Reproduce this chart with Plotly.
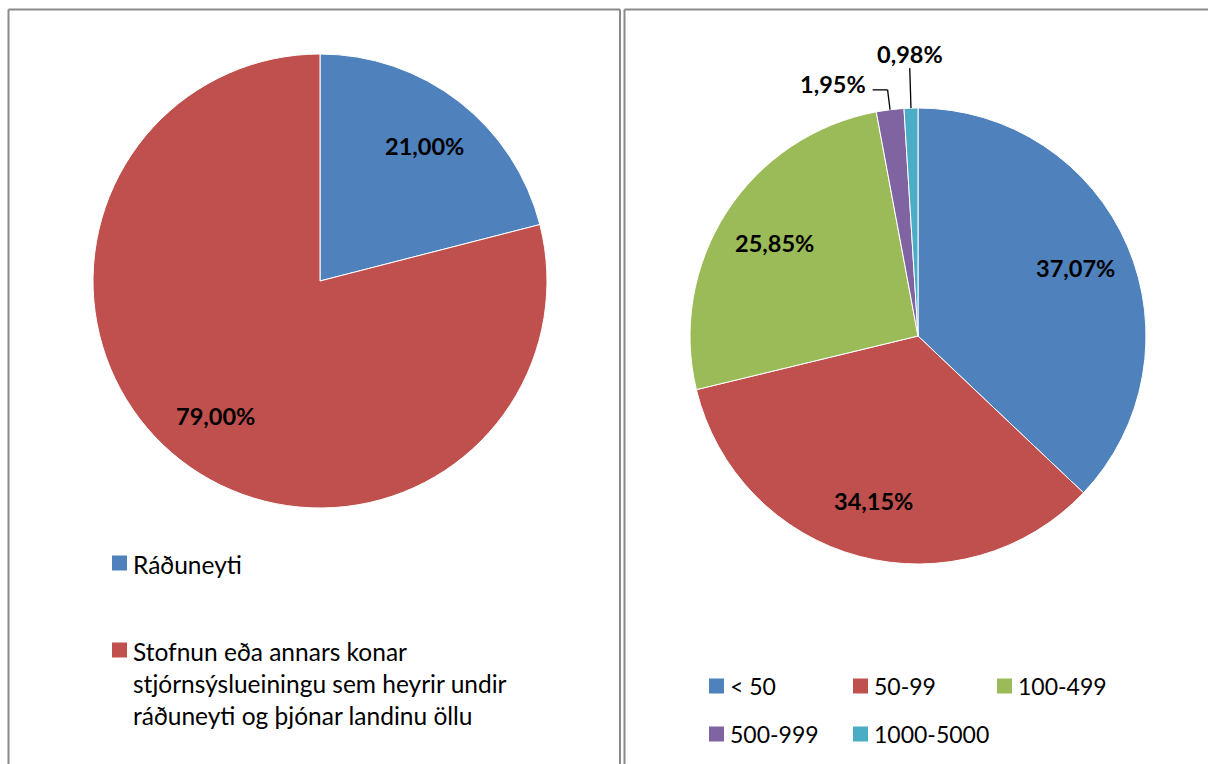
import math
import textwrap
import plotly.graph_objects as go

W, H = 1208, 764

# ---- data ----
left_labels = ["Ráðuneyti",
               "Stofnun eða annars konar stjórnsýslueiningu sem heyrir undir ráðuneyti og þjónar landinu öllu"]
left_values = [21.00, 79.00]
left_colors = ["#4F81BD", "#C0504D"]

right_labels = ["< 50", "50-99", "100-499", "500-999", "1000-5000"]
right_values = [37.07, 34.15, 25.85, 1.95, 0.98]
right_colors = ["#4F81BD", "#C0504D", "#9BBB59", "#8064A2", "#4BACC6"]

FONT = "Lato"
LBL_SIZE = 23.5
LEG_SIZE_L = 24.5
LEG_SIZE_R = 23


def px(x):
    return x / W


def py(y):
    return 1 - y / H


def fmt(v, tot):
    return f"{100 * v / tot:.2f}".replace(".", ",") + "%"


def mid_angles(values):
    tot = sum(values)
    acc = 0
    out = []
    for v in values:
        a0 = acc / tot * 360
        acc += v
        a1 = acc / tot * 360
        out.append((a0 + a1) / 2)
    return out


fig = go.Figure()
annotations = []
shapes = []

pies = [
    dict(labels=left_labels, values=left_values, colors=left_colors, cx=320, cy=281, r=227),
    dict(labels=right_labels, values=right_values, colors=right_colors, cx=918, cy=336, r=228),
]

for p in pies:
    cx, cy, r = p["cx"], p["cy"], p["r"]
    fig.add_trace(go.Pie(
        labels=p["labels"], values=p["values"],
        marker=dict(colors=p["colors"], line=dict(color="white", width=1)),
        sort=False, direction="clockwise", rotation=0,
        textinfo="none", showlegend=False,
        domain=dict(x=[px(cx - r), px(cx + r)], y=[py(cy + r), py(cy - r)]),
    ))
    tot = sum(p["values"])
    angs = mid_angles(p["values"])
    n_out = 0
    for v, a in zip(p["values"], angs):
        t = math.radians(a)
        txt = fmt(v, tot)
        if v / tot > 0.05:
            rr = 0.75 * r
            annotations.append(dict(
                x=px(cx + rr * math.sin(t)), y=py(cy - rr * math.cos(t)),
                xref="paper", yref="paper", text=txt, showarrow=False,
                xanchor="center", yanchor="middle",
                font=dict(family=FONT, size=LBL_SIZE, color="black", weight="bold")))
        else:
            out_len = [20, 40][n_out]
            elbow = [15, 0][n_out]
            n_out += 1
            x0, y0 = cx + r * math.sin(t), cy - r * math.cos(t)
            x1, y1 = cx + (r + out_len) * math.sin(t), cy - (r + out_len) * math.cos(t)
            shapes.append(dict(type="line", xref="paper", yref="paper",
                               x0=px(x0), y0=py(y0), x1=px(x1), y1=py(y1),
                               line=dict(color="black", width=1.3)))
            if elbow:
                x2 = x1 - elbow
                shapes.append(dict(type="line", xref="paper", yref="paper",
                                   x0=px(x1), y0=py(y1), x1=px(x2), y1=py(y1),
                                   line=dict(color="black", width=1.3)))
                annotations.append(dict(
                    x=px(x2 - 5), y=py(y1 - 6), xref="paper", yref="paper",
                    text=txt, showarrow=False, xanchor="right", yanchor="middle",
                    font=dict(family=FONT, size=LBL_SIZE, color="black", weight="bold")))
            else:
                annotations.append(dict(
                    x=px(x1), y=py(y1 + 2), xref="paper", yref="paper",
                    text=txt, showarrow=False, xanchor="center", yanchor="bottom",
                    font=dict(family=FONT, size=LBL_SIZE, color="black", weight="bold")))

# ---- legends (manual) ----
SW = 15
# left legend: vertical
left_rows = [563, 650]
for lab, col, yc in zip(left_labels, left_colors, left_rows):
    shapes.append(dict(type="rect", xref="paper", yref="paper",
                       x0=px(112), x1=px(112 + SW), y0=py(yc - SW / 2), y1=py(yc + SW / 2),
                       fillcolor=col, line=dict(width=0)))
    lines = textwrap.wrap(lab, width=36)
    annotations.append(dict(
        x=px(131), y=py(yc - 15), xref="paper", yref="paper",
        text="<br>".join(lines), showarrow=False, xanchor="left", yanchor="top", align="left",
        font=dict(family=FONT, size=LEG_SIZE_L, color="black")))

# right legend: 3 columns
cols_x = [709, 853, 997]
rows_y = [686, 734]
for i, (lab, col) in enumerate(zip(right_labels, right_colors)):
    x = cols_x[i % 3]
    yc = rows_y[i // 3]
    shapes.append(dict(type="rect", xref="paper", yref="paper",
                       x0=px(x), x1=px(x + SW), y0=py(yc - SW / 2), y1=py(yc + SW / 2),
                       fillcolor=col, line=dict(width=0)))
    annotations.append(dict(
        x=px(x + 19), y=py(yc), xref="paper", yref="paper",
        text=lab.replace("<", "&lt;"), showarrow=False, xanchor="left", yanchor="middle",
        font=dict(family=FONT, size=LEG_SIZE_R, color="black")))

# ---- panel frames ----
FR = dict(color="#8a8a8a", width=2)
for x0, y0, x1, y1 in [(8.5, 9.5, 620, 9.5), (8.5, 9.5, 8.5, 780), (620, 9.5, 620, 780),
                       (624.5, 9.5, 1220, 9.5), (624.5, 9.5, 624.5, 780)]:
    shapes.append(dict(type="line", xref="paper", yref="paper",
                       x0=px(x0), y0=py(y0), x1=px(x1), y1=py(y1), line=FR))

fig.update_layout(
    width=W, height=H,
    margin=dict(l=0, r=0, t=0, b=0),
    paper_bgcolor="white", plot_bgcolor="white",
    annotations=annotations, shapes=shapes,
    showlegend=False,
)

fig.write_html("out.html")
